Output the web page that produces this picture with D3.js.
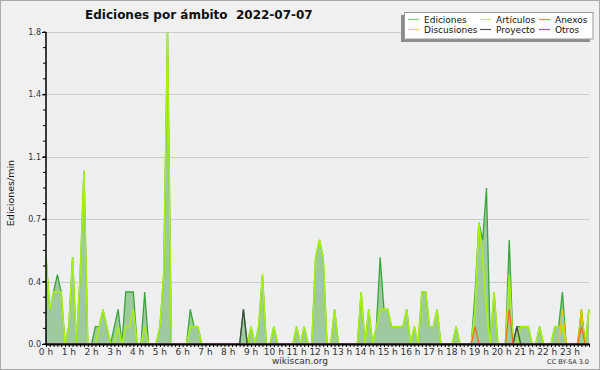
<!DOCTYPE html>
<html>
<head>
<meta charset="utf-8">
<script src="https://cdn.jsdelivr.net/npm/d3@7"></script>
<style>
  body { margin: 0; background: #f0f0f0; }
  svg { display: block; }
  text { font-family: "DejaVu Sans", sans-serif; }
</style>
</head>
<body>
<svg id="chart" width="600" height="370"></svg>
<script>
// 10-minute bins, edits per minute
const total = [
  0.5,0.2,0.3,0.4,0.3,0,0.1,0.5,0,0.4,1.0,0,0,0.1,0.1,0.2,0.1,0,0.1,0.2,0,0.3,0.3,0.3,
  0,0,0.3,0,0,0,0.1,0.4,1.8,0,0,0,0,0,0.2,0.1,0.1,0,0,0,0,0,0,0,0,0,0,0,0.2,0,
  0.1,0,0.1,0.4,0,0,0.1,0,0,0,0,0,0.1,0,0.1,0,0,0.5,0.6,0.5,0,0,0.2,0,0,0,0,0,0,0.3,
  0,0.2,0,0.1,0.5,0.2,0.2,0.1,0.1,0.1,0.1,0.2,0,0.1,0,0.3,0.3,0.1,0.1,0.2,0,0,0,0,0.1,0,
  0,0,0,0.3,0.7,0.6,0.9,0,0.3,0,0,0,0.6,0,0.1,0.1,0.1,0.1,0,0,0.1,0,0,0,0.1,0.1,0.3,0,
  0,0,0,0.2,0,0.2
];
const articulos = [
  0.5,0.2,0.3,0.3,0.3,0,0.1,0.5,0,0.4,1.0,0,0,0,0.1,0.2,0.1,0,0,0.1,0,0.1,0.1,0.2,
  0,0,0.1,0,0,0,0.1,0.4,1.8,0,0,0,0,0,0.1,0.1,0.1,0,0,0,0,0,0,0,0,0,0,0,0,0,
  0.1,0,0.1,0.4,0,0,0.1,0,0,0,0,0,0.1,0,0.1,0,0,0.5,0.6,0.5,0,0,0.2,0,0,0,0,0,0,0.3,
  0,0.2,0,0.1,0.2,0.2,0.2,0.1,0.1,0.1,0.1,0.2,0,0.1,0,0.3,0.3,0.1,0.1,0.2,0,0,0,0,0.1,0,
  0,0,0,0.2,0.7,0.5,0.2,0,0.3,0,0,0,0.4,0,0,0.1,0.1,0.1,0,0,0.1,0,0,0,0.1,0.1,0.1,0,
  0,0,0,0,0,0.2
];
const anexos = { 113: 0.1, 122: 0.2, 141: 0.1 };
const discusiones = { 136: 0.2, 141: 0.2 };
const proyecto = { 52: 0.2, 124: 0.1 };
const otros = {};

const yTicks = [0, 0.36, 0.72, 1.08, 1.44, 1.8];
const hours = d3.range(0, 24);

const legendItems = [
  { name: "Ediciones", color: "#7fd07f" },
  { name: "Discusiones", color: "#ffd24a" },
  { name: "Artículos", color: "#c8f04a" },
  { name: "Proyecto", color: "#555555" },
  { name: "Anexos", color: "#ff7f4f" },
  { name: "Otros", color: "#9a4ee8" }
];

function fromSparse(obj) {
  return d3.range(total.length).map(i => obj[i] || 0);
}

const svg = d3.select("#chart");
const W = 600, H = 370;

svg.append("rect").attr("x", 0.5).attr("y", 0.5).attr("width", W - 1).attr("height", H - 1)
   .attr("fill", "#f0f0f0").attr("stroke", "#a8a8a8");

const x = d3.scaleLinear().domain([0, total.length - 1]).range([46, 589]);
const y = d3.scaleLinear().domain([0, 1.8]).range([344, 32]);

// plot background
svg.append("rect").attr("x", 46).attr("y", 32).attr("width", 589 - 46).attr("height", 344 - 32)
   .attr("fill", "#eeeff1");

// grid
svg.append("g").selectAll("line").data(yTicks.slice(1)).join("line")
   .attr("x1", 46).attr("x2", 589)
   .attr("y1", d => Math.round(y(d)) + 0.5).attr("y2", d => Math.round(y(d)) + 0.5)
   .attr("stroke", "#cccccc");

const area = d3.area().x((d, i) => x(i)).y0(y(0)).y1(d => y(d));
const line = d3.line().x((d, i) => x(i)).y(d => y(d));

svg.append("path").datum(total).attr("d", area).attr("fill", "#9fca9f");
svg.append("path").datum(total).attr("d", line).attr("fill", "none")
   .attr("stroke", "#3aa63a").attr("stroke-width", 1.3);
svg.append("path").datum(articulos).attr("d", line).attr("fill", "none")
   .attr("stroke", "#a8f018").attr("stroke-width", 1.6);

[[fromSparse(discusiones), "#f5c400"], [fromSparse(proyecto), "#444444"],
 [fromSparse(anexos), "#f26a1b"], [fromSparse(otros), "#8a3fe0"]].forEach(([s, c]) => {
  svg.append("path").datum(s).attr("d", line).attr("fill", "none")
     .attr("stroke", c).attr("stroke-width", 1.2);
});

// y axis
const yAxis = d3.axisLeft(y).tickValues(yTicks).tickFormat(d3.format(".1f")).tickSize(4).tickPadding(1);
const gy = svg.append("g").attr("transform", "translate(46,0)").call(yAxis);
gy.select(".domain").remove();
gy.selectAll("text").attr("font-size", 8).attr("fill", "#333");
svg.append("g").selectAll("line").data(d3.range(0, 1.8001, 0.09)).join("line")
   .attr("x1", 43).attr("x2", 46).attr("y1", d => y(d)).attr("y2", d => y(d)).attr("stroke", "#000");
svg.append("line").attr("x1", 46).attr("x2", 46).attr("y1", 32).attr("y2", 344).attr("stroke", "#000").attr("stroke-width", 1.5);

// x axis
const xAxis = d3.axisBottom(x).tickValues(d3.range(0, total.length)).tickFormat("").tickSize(3);
const gx = svg.append("g").attr("transform", "translate(0,344)").call(xAxis);
gx.select(".domain").remove();
svg.append("line").attr("x1", 46).attr("x2", 590).attr("y1", 344.5).attr("y2", 344.5).attr("stroke", "#000").attr("stroke-width", 2);
svg.append("g").selectAll("text").data(hours).join("text")
   .attr("x", h => x(h * 6)).attr("y", 355).attr("text-anchor", "middle")
   .attr("font-size", 9).attr("fill", "#333").text(h => h + " h");

// titles
svg.append("text").attr("x", 85).attr("y", 19).attr("font-size", 12).attr("font-weight", "bold")
   .attr("fill", "#111").style("white-space", "pre").text("Ediciones por ámbito  2022-07-07");
svg.append("text").attr("transform", "translate(14,193) rotate(-90)").attr("text-anchor", "middle")
   .attr("font-size", 9.5).attr("fill", "#111").text("Ediciones/min");
svg.append("text").attr("x", 300).attr("y", 364).attr("text-anchor", "middle")
   .attr("font-size", 9).attr("fill", "#333").text("wikiscan.org");
svg.append("text").attr("x", 589).attr("y", 364).attr("text-anchor", "end")
   .attr("font-size", 6.5).attr("fill", "#333").text("CC BY-SA 3.0");

// legend
const lg = svg.append("g");
lg.append("rect").attr("x", 401).attr("y", 15).attr("width", 189).attr("height", 27).attr("fill", "#8c8c8c");
lg.append("rect").attr("x", 404.5).attr("y", 12.5).attr("width", 188.5).attr("height", 26.5)
  .attr("fill", "#fff").attr("stroke", "#999");
const colX = [408, 480, 539];
const rowY = [19.5, 29.5];
legendItems.forEach((d, i) => {
  const cx = colX[Math.floor(i / 2)], cy = rowY[i % 2];
  lg.append("line").attr("x1", cx).attr("x2", cx + 11).attr("y1", cy).attr("y2", cy)
    .attr("stroke", d.color).attr("stroke-width", 1.2);
  lg.append("text").attr("x", cx + 16).attr("y", cy + 3.5).attr("font-size", 9)
    .attr("fill", "#111").text(d.name);
});
</script>
</body>
</html>
